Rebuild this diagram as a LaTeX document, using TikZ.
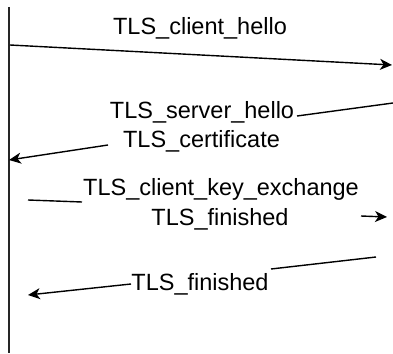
\documentclass[tikz,border=0pt]{standalone}
\usepackage{fontspec}
\setmainfont{Liberation Sans}
\usetikzlibrary{arrows.meta}
\begin{document}
\begin{tikzpicture}[x=1pt,y=-1pt,
  lbl/.style={anchor=base,inner sep=0pt,font=\fontsize{23.5}{28}\selectfont},
  msg/.style={line width=1.4pt,black},
  tip/.style={-{Stealth[length=12pt,width=11pt,inset=3.5pt]}}]
\useasboundingbox (0,0) rectangle (393,353);
% lifeline
\coordinate (ltop) at (9,7);
\coordinate (lbot) at (9,353);
\draw[line width=1.5pt,black!85] (ltop) -- (lbot);
% texts
\node[lbl] (t1) at (200,35) {TLS\_client\_hello};
\node[lbl] (t2) at (202,118) {TLS\_server\_hello};
\node[lbl] (t3) at (201.5,147) {TLS\_certificate};
\node[lbl] (t4) at (221,195) {TLS\_client\_key\_exchange};
\node[lbl] (t5) at (220,225) {TLS\_finished};
\node[lbl] (t6) at (200,290) {TLS\_finished};
% message 1
\coordinate (a1) at (10,45);
\coordinate (b1) at (392,65);
\draw[msg,tip] (a1) -- (b1);
% message 2
\coordinate (a2) at (393,103);
\coordinate (a2e) at (297,116);
\draw[msg] (a2) -- (a2e);
\coordinate (b2s) at (108,145);
\coordinate (b2) at (9,160);
\draw[msg,tip] (b2s) -- (b2);
% message 3
\coordinate (a3) at (28,200);
\coordinate (a3e) at (82,202);
\draw[msg] (a3) -- (a3e);
\coordinate (b3s) at (361,216);
\coordinate (b3) at (387,217);
\draw[msg,tip] (b3s) -- (b3);
% message 4
\coordinate (a4) at (376,257);
\coordinate (a4e) at (271,269);
\draw[msg] (a4) -- (a4e);
\coordinate (b4s) at (131,284);
\coordinate (b4) at (28,295);
\draw[msg,tip] (b4s) -- (b4);
\end{tikzpicture}
\end{document}
